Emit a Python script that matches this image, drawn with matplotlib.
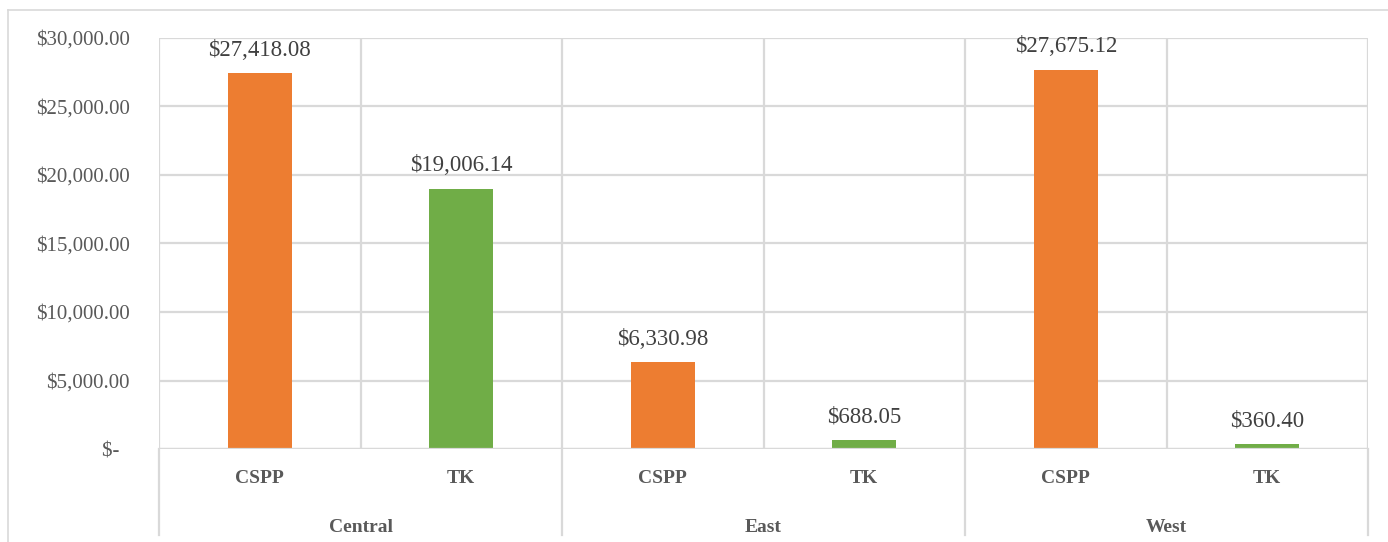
import matplotlib
matplotlib.use("Agg")
import matplotlib.pyplot as plt
from matplotlib.lines import Line2D
from matplotlib.ticker import FuncFormatter

groups = ["Central", "East", "West"]
subcats = ["CSPP", "TK", "CSPP", "TK", "CSPP", "TK"]
values = [27418.08, 19006.14, 6330.98, 688.05, 27675.12, 360.40]
colors_map = {"CSPP": "#ED7D31", "TK": "#70AD47"}
yticks = [0, 5000, 10000, 15000, 20000, 25000, 30000]

plt.rcParams['font.family'] = ['Liberation Serif', 'DejaVu Serif']

fig = plt.figure(figsize=(13.88, 5.42), dpi=100)
ax = fig.add_axes([159/1388, 93/542, (1368-159)/1388, (449-38)/542])

grid_c = "#d9d9d9"
x = list(range(len(values)))
ax.bar(x, values, width=0.318, color=[colors_map[s] for s in subcats], zorder=3)
ax.set_xlim(-0.5, len(values) - 0.5)
ax.set_ylim(0, 30000)
ax.set_yticks(yticks)
ax.yaxis.set_major_formatter(FuncFormatter(lambda v, p: "$-  " if v == 0 else f"${v:,.2f}"))
ax.tick_params(axis='y', length=0, labelsize=15, labelcolor="#595959", pad=21)
ax.set_xticks([])
for s in ax.spines.values():
    s.set_visible(False)
ax.grid(axis='y', color=grid_c, lw=1.6, zorder=0)
for i in range(len(values) + 1):
    ax.axvline(i - 0.5, color=grid_c, lw=1.6, zorder=0)
ax.axhline(0, color=grid_c, lw=1.6, zorder=4)

for xi, v in zip(x, values):
    ax.annotate(f"${v:,.2f}", (xi, v), xytext=(0, 9), textcoords='offset points',
                ha='center', va='bottom', fontsize=16.5, color="#404040")

trans = ax.get_xaxis_transform()
for xi, s in zip(x, subcats):
    ax.text(xi, -0.0706, s, transform=trans, ha='center', va='center',
            fontsize=14, fontweight='bold', color="#595959")
n_per = len(subcats) // len(groups)
for gi, g in enumerate(groups):
    cx = gi * n_per + (n_per - 1) / 2
    ax.text(cx, -0.1898, g, transform=trans, ha='center', va='center',
            fontsize=14, fontweight='bold', color="#595959")
for gi in range(len(groups) + 1):
    xb = gi * n_per - 0.5
    ax.add_line(Line2D([xb, xb], [0, -0.21], transform=trans, color=grid_c,
                       lw=1.6, clip_on=False))

# outer chart border
fig.add_artist(Line2D([8/1388, 1.0], [1 - 10/542, 1 - 10/542], transform=fig.transFigure,
                      color=grid_c, lw=1.2))
fig.add_artist(Line2D([8/1388, 8/1388], [0, 1 - 10/542], transform=fig.transFigure,
                      color=grid_c, lw=1.2))

fig.savefig("out.png", dpi=100)
